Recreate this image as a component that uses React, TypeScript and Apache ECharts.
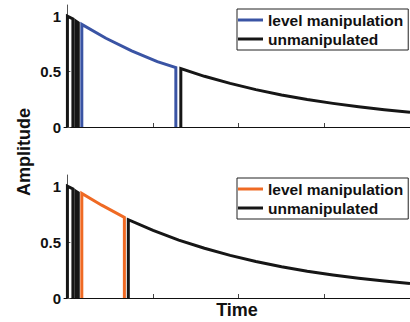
import React, { useEffect, useRef } from "react";
import * as echarts from "echarts";

// ---- data (Time in axis units, Amplitude) ----
const xTickValues = [1, 2, 3];
const yTickValues = [0, 0.5, 1];

const topUnmanipulated: number[][][] = [
  [[0, 0], [0, 1.0], [0.064, 0.975], [0.064, 0]],
  [[0.098, 0], [0.098, 0.955], [0.127, 0.94], [0.127, 0]],
  [[1.324, 0], [1.324, 0.527], [1.6, 0.457], [1.9, 0.393], [2.2, 0.337], [2.5, 0.289], [2.8, 0.248], [3.1, 0.213], [3.4, 0.182], [3.7, 0.156], [4.0, 0.134]],
];
const topLevel: number[][][] = [
  [[0.168, 0], [0.168, 0.925], [0.45, 0.8], [0.75, 0.686], [1.05, 0.589], [1.266, 0.535], [1.266, 0]],
];
const bottomUnmanipulated: number[][][] = [
  [[0, 0], [0, 1.0], [0.064, 0.975], [0.064, 0]],
  [[0.098, 0], [0.098, 0.955], [0.127, 0.94], [0.127, 0]],
  [[0.711, 0], [0.711, 0.7], [1.0, 0.604], [1.3, 0.518], [1.6, 0.445], [1.9, 0.381], [2.2, 0.327], [2.5, 0.28], [2.8, 0.24], [3.1, 0.206], [3.4, 0.177], [3.7, 0.152], [4.0, 0.13]],
];
const bottomLevel: number[][][] = [
  [[0.168, 0], [0.168, 0.935], [0.4, 0.83], [0.665, 0.72], [0.665, 0]],
];

const BLUE = "#3a54a4";
const ORANGE = "#ef6a24";
const BLACK = "#161616";
const FONT = "'Liberation Sans', Arial, Helvetica, sans-serif";

export default function App() {
  const ref = useRef<HTMLDivElement>(null);
  useEffect(() => {
    if (!ref.current) return;
    const chart = echarts.init(ref.current, null, { renderer: "svg" });

    const xAxisBase = (showName: boolean, gridIndex: number) => ({
      type: "value",
      gridIndex,
      min: -0.04,
      max: 4,
      splitLine: { show: false },
      axisLine: { lineStyle: { color: "#111", width: 1 } },
      axisTick: {
        inside: true,
        length: 4,
        customValues: xTickValues,
        lineStyle: { color: "#444", width: 1 },
      },
      axisLabel: { show: false },
      name: showName ? "Time" : "",
      nameLocation: "middle",
      nameGap: 3,
      nameTextStyle: {
        fontFamily: FONT,
        fontWeight: "bold",
        fontSize: 18,
        color: "#111",
        verticalAlign: "top",
      },
    });

    const yAxisBase = (gridIndex: number) => ({
      type: "value",
      gridIndex,
      min: 0,
      max: 1.1,
      splitLine: { show: false },
      axisLine: { lineStyle: { color: "#555", width: 1 } },
      axisTick: {
        inside: true,
        length: 3,
        customValues: yTickValues,
        lineStyle: { color: "#555" },
      },
      axisLabel: {
        customValues: yTickValues,
        margin: 3,
        fontFamily: FONT,
        fontWeight: "bold",
        fontSize: 15,
        color: "#111",
        formatter: (v: number) => String(v),
      },
    });

    const lineSeries = (name: string, segs: number[][][], color: string, idx: number, z: number) =>
      segs.map((seg) => ({
        type: "line",
        name,
        xAxisIndex: idx,
        yAxisIndex: idx,
        data: seg,
        showSymbol: false,
        symbol: "none",
        z,
        lineStyle: { color, width: 3, join: "miter", cap: "butt" },
        itemStyle: { color },
      }));

    const legendBase = (top: number, levelColor: string) => ({
      orient: "vertical",
      left: 237,
      top,
      selectedMode: false,
      icon: "rect",
      itemWidth: 25,
      itemHeight: 3,
      itemGap: 3,
      padding: [3, 5, 3, 1],
      backgroundColor: "#fff",
      borderColor: "#222",
      borderWidth: 1,
      borderRadius: 0,
      textStyle: { fontFamily: FONT, fontWeight: "bold", fontSize: 15.5, color: "#111" },
      data: [
        { name: "level manipulation", itemStyle: { color: levelColor } },
        { name: "unmanipulated", itemStyle: { color: BLACK } },
      ],
    });

    chart.setOption({
      animation: false,
      backgroundColor: "#fff",
      grid: [
        { left: 64, top: 5, width: 349.5, height: 122 },
        { left: 64, top: 175, width: 349.5, height: 123 },
      ],
      xAxis: [xAxisBase(false, 0), xAxisBase(true, 1)],
      yAxis: [yAxisBase(0), yAxisBase(1)],
      legend: [legendBase(9, BLUE), legendBase(178, ORANGE)],
      series: [
        ...lineSeries("level manipulation", topLevel, BLUE, 0, 2),
        ...lineSeries("unmanipulated", topUnmanipulated, BLACK, 0, 3),
        ...lineSeries("level manipulation", bottomLevel, ORANGE, 1, 2),
        ...lineSeries("unmanipulated", bottomUnmanipulated, BLACK, 1, 3),
      ],
      graphic: [
        {
          type: "text",
          x: 24,
          y: 152,
          rotation: Math.PI / 2,
          style: {
            text: "Amplitude",
            fontFamily: FONT,
            fontWeight: "bold",
            fontSize: 18,
            fill: "#111",
            align: "center",
            verticalAlign: "middle",
          },
        },
      ],
    });
    return () => chart.dispose();
  }, []);

  return <div ref={ref} style={{ width: 410, height: 322, position: "fixed", left: 0, top: 0 }} />;
}
